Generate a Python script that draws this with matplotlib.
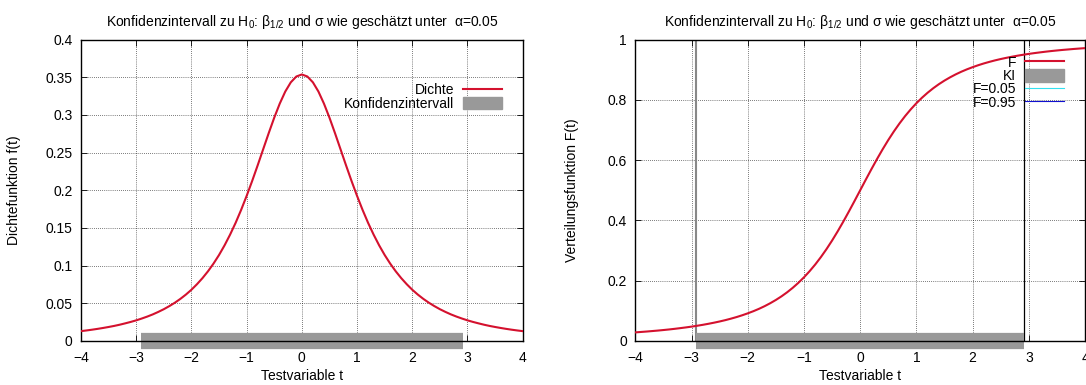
import numpy as np
import matplotlib
matplotlib.use("Agg")
import matplotlib.pyplot as plt
from matplotlib.lines import Line2D
from matplotlib.patches import Patch

plt.rcParams['font.family'] = ['Liberation Sans', 'DejaVu Sans']
plt.rcParams['font.size'] = 10

# Stützstellen der Testvariable t (Schrittweite 0.1)
t = np.linspace(-4, 4, 81)

# Dichte f(t)
dichte = [0.0131, 0.0140, 0.0150, 0.0161, 0.0173, 0.0186, 0.0200, 0.0216, 0.0234, 0.0253,
          0.0274, 0.0298, 0.0324, 0.0353, 0.0386, 0.0422, 0.0463, 0.0508, 0.0559, 0.0616,
          0.0680, 0.0753, 0.0834, 0.0925, 0.1027, 0.1141, 0.1269, 0.1411, 0.1567, 0.1739,
          0.1925, 0.2123, 0.2331, 0.2545, 0.2758, 0.2963, 0.3150, 0.3310, 0.3432, 0.3509,
          0.3536,
          0.3509, 0.3432, 0.3310, 0.3150, 0.2963, 0.2758, 0.2545, 0.2331, 0.2123, 0.1925,
          0.1739, 0.1567, 0.1411, 0.1269, 0.1141, 0.1027, 0.0925, 0.0834, 0.0753, 0.0680,
          0.0616, 0.0559, 0.0508, 0.0463, 0.0422, 0.0386, 0.0353, 0.0324, 0.0298, 0.0274,
          0.0253, 0.0234, 0.0216, 0.0200, 0.0186, 0.0173, 0.0161, 0.0150, 0.0140, 0.0131]

# Verteilungsfunktion F(t)
verteilung = [0.0286, 0.0300, 0.0314, 0.0330, 0.0346, 0.0364, 0.0383, 0.0404, 0.0427, 0.0451,
              0.0477, 0.0506, 0.0537, 0.0571, 0.0608, 0.0648, 0.0692, 0.0741, 0.0794, 0.0853,
              0.0918, 0.0989, 0.1068, 0.1156, 0.1254, 0.1362, 0.1482, 0.1616, 0.1765, 0.1930,
              0.2113, 0.2316, 0.2538, 0.2782, 0.3047, 0.3333, 0.3639, 0.3962, 0.4300, 0.4647,
              0.5000,
              0.5353, 0.5700, 0.6038, 0.6361, 0.6667, 0.6953, 0.7218, 0.7462, 0.7684, 0.7887,
              0.8070, 0.8235, 0.8384, 0.8518, 0.8638, 0.8746, 0.8844, 0.8932, 0.9011, 0.9082,
              0.9147, 0.9206, 0.9259, 0.9308, 0.9352, 0.9392, 0.9429, 0.9463, 0.9494, 0.9523,
              0.9549, 0.9573, 0.9596, 0.9617, 0.9636, 0.9654, 0.9670, 0.9686, 0.9700, 0.9714]

# Konfidenzintervall
ki_unten = -2.92
ki_oben = 2.92

x_ticks = [-4, -3, -2, -1, 0, 1, 2, 3, 4]
y_ticks_dichte = [0, 0.05, 0.1, 0.15, 0.2, 0.25, 0.3, 0.35, 0.4]
y_labels_dichte = ['0', '0.05', '0.1', '0.15', '0.2', '0.25', '0.3', '0.35', '0.4']
y_ticks_vert = [0, 0.2, 0.4, 0.6, 0.8, 1]
y_labels_vert = ['0', '0.2', '0.4', '0.6', '0.8', '1']

titel = 'Konfidenzintervall zu H$_\\mathregular{0}$: β$_\\mathregular{1/2}$ und σ wie geschätzt unter  α=0.05'

ROT = '#d4112e'
GRAU = '#999999'

fig = plt.figure(figsize=(10.86, 3.85), dpi=100)
ax1 = fig.add_axes([81/1086, 44/385, 441.7/1086, 301.5/385])
ax2 = fig.add_axes([635.4/1086, 44/385, 449.6/1086, 301.5/385])


def achsen_stil(ax, yt, yl):
    ax.set_xlim(-4, 4)
    ax.set_xticks(x_ticks)
    ax.set_yticks(yt)
    ax.set_yticklabels(yl)
    ax.set_ylim(yt[0], yt[-1])
    ax.grid(True, color='black', linestyle=(0, (1, 2)), linewidth=0.5)
    ax.tick_params(direction='in', top=True, right=True, length=4, width=0.6, pad=6)
    ax.tick_params(axis='x', pad=7)
    for s in ax.spines.values():
        s.set_linewidth(1.0)
    ax.set_title(titel, fontsize=10, pad=10)
    ax.set_xlabel('Testvariable t')
    ax.xaxis.set_label_coords(0.5, -0.092)


leg_opts = dict(loc='upper right', frameon=False, markerfirst=False,
                handlelength=2.8, handleheight=1.0, handletextpad=0.65,
                labelspacing=-0.05, borderpad=0, borderaxespad=0)

# Links: Dichte
achsen_stil(ax1, y_ticks_dichte, y_labels_dichte)
ax1.plot(t, dichte, color=ROT, lw=1.5, zorder=3)
ax1.plot([ki_unten, ki_oben], [0, 0], color=GRAU, lw=11.7, solid_capstyle='butt',
         clip_on=False, zorder=2)
ax1.set_ylabel('Dichtefunktion f(t)')
ax1.yaxis.set_label_coords(-0.135, 0.5)
ax1.legend([Line2D([], [], color=ROT, lw=1.5), Patch(color=GRAU)],
           ['Dichte', 'Konfidenzintervall'],
           bbox_to_anchor=(0.953, 0.855), **leg_opts)

# Rechts: Verteilungsfunktion
achsen_stil(ax2, y_ticks_vert, y_labels_vert)
ax2.axvline(ki_unten, color='#888888', lw=1.5, zorder=2)
ax2.axvline(ki_oben, color='black', lw=0.9, zorder=2)
ax2.plot(t, verteilung, color=ROT, lw=1.5, zorder=3)
ax2.plot([ki_unten, ki_oben], [0, 0], color=GRAU, lw=11.7, solid_capstyle='butt',
         clip_on=False, zorder=2)
ax2.set_ylabel('Verteilungsfunktion F(t)')
ax2.yaxis.set_label_coords(-0.125, 0.5)
ax2.legend([Line2D([], [], color=ROT, lw=1.5), Patch(color=GRAU),
            Line2D([], [], color='#33e0f0', lw=0.8), Line2D([], [], color='#1010d0', lw=0.8)],
           ['F', 'KI', 'F=0.05', 'F=0.95'],
           bbox_to_anchor=(0.953, 0.946), **leg_opts)

fig.savefig('out.png', dpi=100)
